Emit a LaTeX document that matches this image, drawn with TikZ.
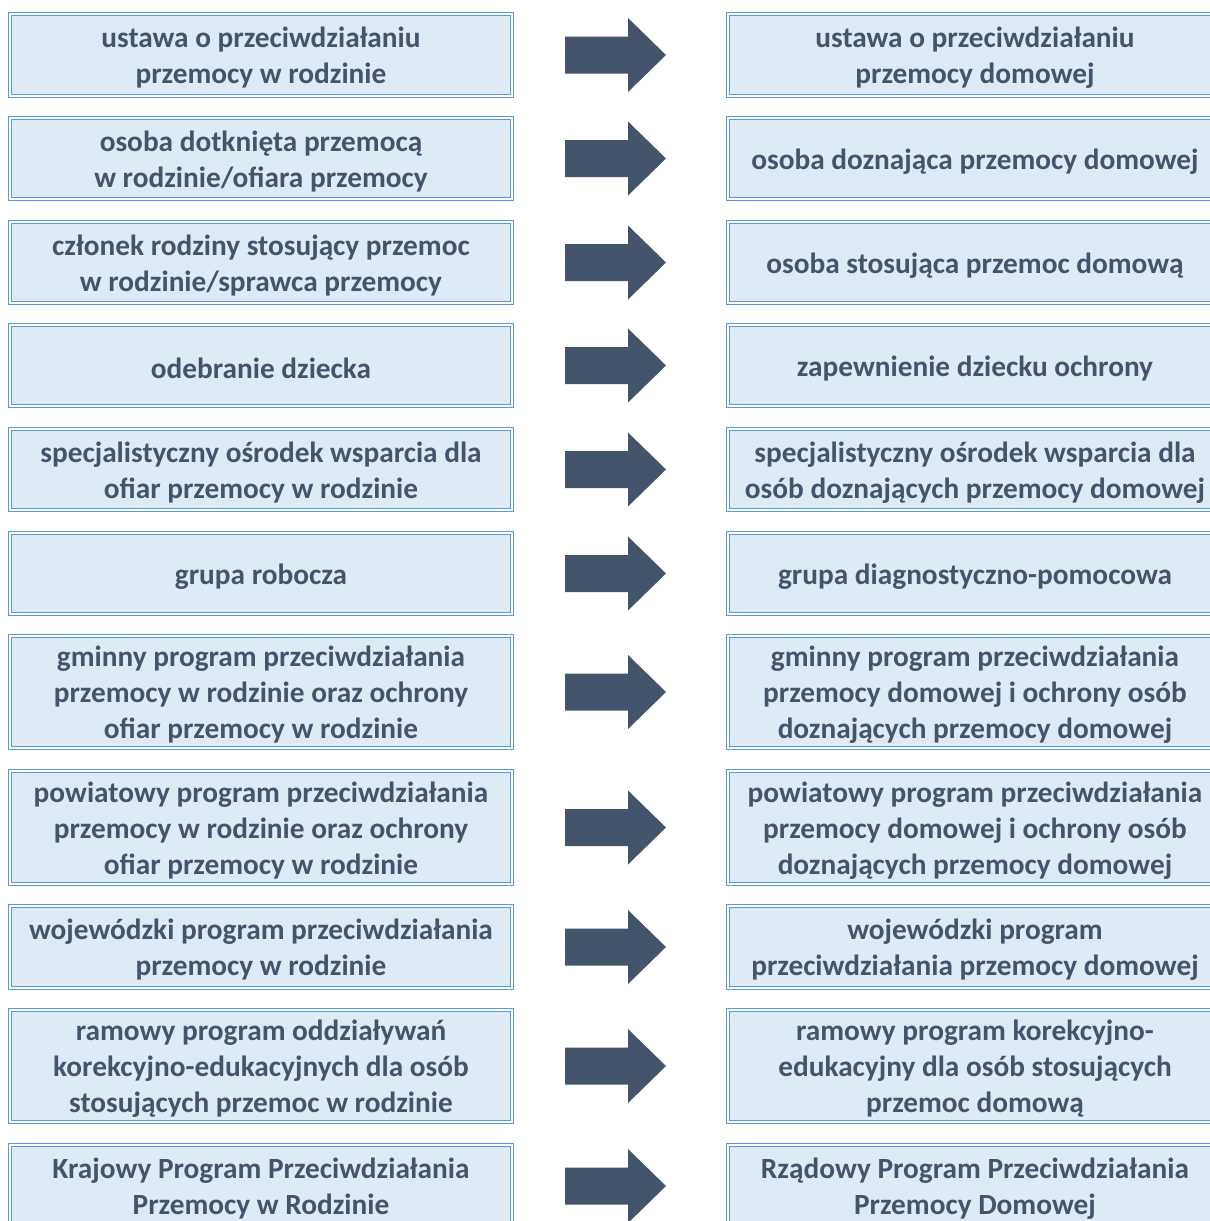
\documentclass[tikz,border=0pt]{standalone}
\usepackage{fontspec}
\setmainfont{Carlito}
\definecolor{boxblue}{HTML}{5B9BD5}
\definecolor{boxfill}{HTML}{DEEAF6}
\definecolor{txtc}{HTML}{44546A}
\definecolor{arrc}{HTML}{44546A}
\newcommand\pairrow[5]{%
  \node[box, anchor=north west, minimum width=502pt, minimum height={#3pt-#2pt}] (l#1) at (10,#2) {};
  \node[lbl] (lt#1) at ([yshift=-3pt]l#1.center) {#4};
  \node[box, anchor=north west, minimum width=494pt, minimum height={#3pt-#2pt}] (r#1) at (728,#2) {};
  \node[lbl] (rt#1) at ([yshift=-3pt]r#1.center) {#5};
  \coordinate (a#1) at (565,{(#2+#3)/2});
  \fill[arrc] (a#1) ++(0,-18.5) -- ++(63,0) -- ++(0,-18.5) -- ++(38,37) -- ++(-38,37) -- ++(0,-18.5) -- ++(-63,0) -- cycle;
}
\begin{document}
\begin{tikzpicture}[x=1pt,y=-1pt,
  box/.style={draw=boxblue, double=white, line width=1.5pt, double distance=1.2pt,
    fill=boxfill, inner sep=0pt, outer sep=0pt},
  lbl/.style={inner sep=0pt, align=center, text=txtc,
    font=\fontsize{29.3}{36}\selectfont\bfseries}]
\useasboundingbox (0,0) rectangle (1210,1221);
\clip (0,0) rectangle (1210,1221);
\pairrow{1}{14}{96}{ustawa o przeciwdziałaniu\\przemocy w rodzinie}{ustawa o przeciwdziałaniu\\przemocy domowej}
\pairrow{2}{118}{199}{osoba dotknięta przemocą\\w rodzinie/ofiara przemocy}{osoba doznająca przemocy domowej}
\pairrow{3}{222}{303}{członek rodziny stosujący przemoc\\w rodzinie/sprawca przemocy}{osoba stosująca przemoc domową}
\pairrow{4}{325}{406}{odebranie dziecka}{zapewnienie dziecku ochrony}
\pairrow{5}{429}{510}{specjalistyczny ośrodek wsparcia dla\\ofiar przemocy w rodzinie}{specjalistyczny ośrodek wsparcia dla\\osób doznających przemocy domowej}
\pairrow{6}{533}{614}{grupa robocza}{grupa diagnostyczno-pomocowa}
\pairrow{7}{636}{748}{gminny program przeciwdziałania\\przemocy w rodzinie oraz ochrony\\ofiar przemocy w rodzinie}{gminny program przeciwdziałania\\przemocy domowej i ochrony osób\\doznających przemocy domowej}
\pairrow{8}{771}{884}{powiatowy program przeciwdziałania\\przemocy w rodzinie oraz ochrony\\ofiar przemocy w rodzinie}{powiatowy program przeciwdziałania\\przemocy domowej i ochrony osób\\doznających przemocy domowej}
\pairrow{9}{906}{988}{wojewódzki program przeciwdziałania\\przemocy w rodzinie}{wojewódzki program\\przeciwdziałania przemocy domowej}
\pairrow{10}{1010}{1122}{ramowy program oddziaływań\\korekcyjno-edukacyjnych dla osób\\stosujących przemoc w rodzinie}{ramowy program korekcyjno-\\edukacyjny dla osób stosujących\\przemoc domową}
\pairrow{11}{1145}{1227}{Krajowy Program Przeciwdziałania\\Przemocy w Rodzinie}{Rządowy Program Przeciwdziałania\\Przemocy Domowej}
\end{tikzpicture}
\end{document}
